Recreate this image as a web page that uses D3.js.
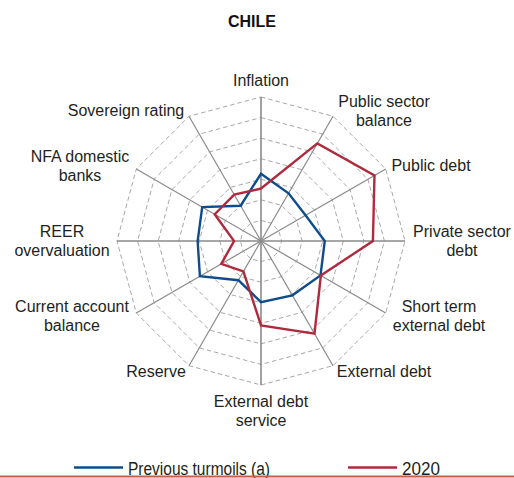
<!DOCTYPE html>
<html>
<head>
<meta charset="utf-8">
<script src="https://cdn.jsdelivr.net/npm/d3@7"></script>
<style>
  html, body { margin: 0; padding: 0; background: #fff; }
  svg { display: block; }
</style>
</head>
<body>
<svg id="chart" width="514" height="478"></svg>
<script>
const title = "CHILE";
const categories = [
  ["Inflation"],
  ["Public sector", "balance"],
  ["Public debt"],
  ["Private sector", "debt"],
  ["Short term", "external debt"],
  ["External debt"],
  ["External debt", "service"],
  ["Reserve"],
  ["Current account", "balance"],
  ["REER", "overvaluation"],
  ["NFA domestic", "banks"],
  ["Sovereign rating"]
];
const seriesNames = ["Previous turmoils (a)", "2020"];
const previousTurmoils = [3.27, 2.68, 2.5, 3.1, 3.34, 3.05, 2.97, 2.2, 3.43, 3.08, 3.3, 1.98];
const y2020 = [2.55, 5.48, 6.37, 5.44, 3.36, 5.2, 4.1, 1.71, 2.23, 1.31, 2.6, 2.6];
const ringLevels = [1, 2, 3, 4, 5, 6, 7];

const colors = ["#0f4c8c", "#b02a3d"];
const svg = d3.select("#chart");
const cx = 261, cy = 241, R = 144;
const n = categories.length;

const r = d3.scaleLinear().domain([0, 7]).range([0, R]);
const angle = d3.scaleLinear().domain([0, n]).range([0, 2 * Math.PI]);
const pt = (i, v) => [cx + r(v) * Math.sin(angle(i)), cy - r(v) * Math.cos(angle(i))];

// title
svg.append("text").attr("x", 252).attr("y", 27).attr("text-anchor", "middle")
  .attr("font-family", "Liberation Sans, Arial, sans-serif").attr("font-weight", "bold")
  .attr("font-size", 16).attr("fill", "#111").text(title);

// rings (dashed)
const g = svg.append("g");
ringLevels.forEach(lv => {
  g.append("path")
    .attr("d", d3.line()(d3.range(n + 1).map(i => pt(i % n, lv))))
    .attr("fill", "none").attr("stroke", "#a8a8a8").attr("stroke-width", 1)
    .attr("stroke-dasharray", "4.5,3");
});

// spokes
d3.range(n).forEach(i => {
  const [x2, y2] = pt(i, 7);
  g.append("line").attr("x1", cx).attr("y1", cy).attr("x2", x2).attr("y2", y2)
    .attr("stroke", "#8a8a8a")
    .attr("stroke-width", i % 3 === 0 ? 1.6 : 1.2);
});

// series
const line = d3.line().curve(d3.curveLinearClosed);
[previousTurmoils, y2020].forEach((vals, k) => {
  svg.append("path")
    .attr("d", line(vals.map((v, i) => pt(i, v))))
    .attr("fill", "none").attr("stroke", colors[k]).attr("stroke-width", 2.4)
    .attr("stroke-linejoin", "miter");
});

// labels
const labelPos = [
  [261, 86], [384, 107], [431, 171], [462, 237], [439, 312], [384, 377],
  [261, 407], [156, 377], [72, 312], [62, 237], [80, 162], [126, 116]
];
const lf = "Liberation Sans, Arial, Helvetica, sans-serif";
categories.forEach((lines, i) => {
  const t = svg.append("text").attr("text-anchor", "middle")
    .attr("font-family", lf).attr("font-size", 16).attr("fill", "#231f20");
  lines.forEach((s, j) => {
    t.append("tspan").attr("x", labelPos[i][0]).attr("y", labelPos[i][1] + j * 19).text(s);
  });
});

// legend
const legX = [74, 348];
const legW = [142, 38];
const nf = "Liberation Sans, Arial, sans-serif";
seriesNames.forEach((s, k) => {
  svg.append("line").attr("x1", legX[k]).attr("x2", legX[k] + 49)
    .attr("y1", 467.5).attr("y2", 467.5).attr("stroke", colors[k]).attr("stroke-width", 2.4);
  svg.append("text").attr("x", legX[k] + 54).attr("y", 475)
    .attr("font-family", nf).attr("font-size", 18).attr("fill", "#231f20")
    .attr("textLength", legW[k]).attr("lengthAdjust", "spacingAndGlyphs").text(s);
});

// bottom rule
svg.append("line").attr("x1", 0).attr("x2", 514).attr("y1", 476.5).attr("y2", 476.5)
  .attr("stroke", "#c0614a").attr("stroke-width", 2);
</script>
</body>
</html>
